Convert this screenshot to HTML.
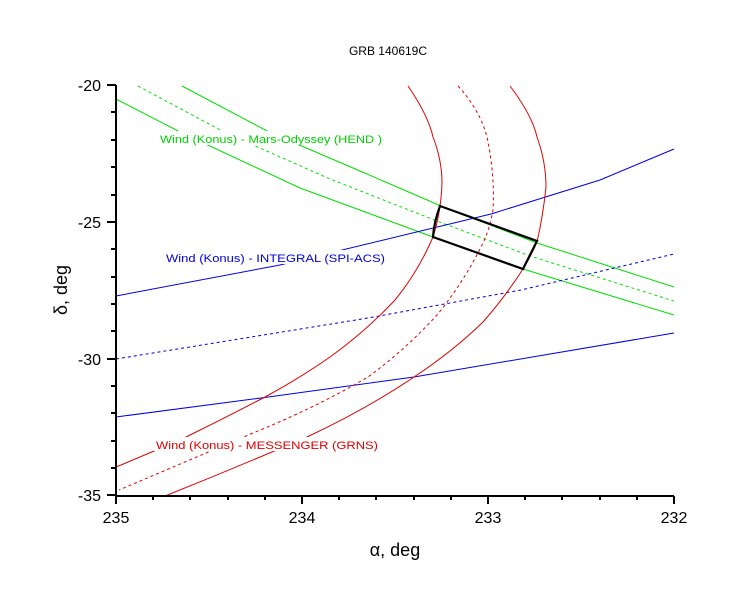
<!DOCTYPE html>
<html><head><meta charset="utf-8"><style>body{margin:0;background:#fff}svg{display:block}text{font-family:"Liberation Sans",sans-serif}</style></head>
<body>
<svg width="730" height="603" viewBox="0 0 730 603" xmlns="http://www.w3.org/2000/svg">
<rect width="730" height="603" fill="#fff"/>
<text x="388" y="55" font-size="12" text-anchor="middle">GRB 140619C</text>
<g fill="none" stroke-width="1">
<!-- green -->
<path d="M182,86 L269,132 L360,171 L441,206 L537,243 L674,287" stroke="#00e000"/>
<path d="M138,86 L226,133 L330,179 L437,221 L530,256 L674,301" stroke="#00e000" stroke-dasharray="3,3"/>
<path d="M116,99 L182,133 L300,188 L433,237 L523,269 L674,315" stroke="#00e000"/>
<!-- blue -->
<path d="M116,296 L280,265 L491,214 L600,180 L674,149" stroke="#0000e0"/>
<path d="M116,359 L368,318 L521,290 L674,254" stroke="#0000e0" stroke-dasharray="3,3"/>
<path d="M116,417 L261,398 L414,377 L674,333" stroke="#0000e0"/>
<!-- red -->
<path d="M408,86 Q428,115 433,137 Q442,160 442,183 Q441,212 433,237 Q418,272 395,300 Q365,332 330,357 Q300,378 265,397 Q225,418 184,438 Q150,453 116,467" stroke="#e00000"/>
<path d="M458,86 Q480,110 487,137 Q495,175 493,210 Q490,228 483,243 Q464,282 437,315 Q405,350 368,377 Q315,408 253,433 Q185,462 119,490" stroke="#e00000" stroke-dasharray="3,3"/>
<path d="M510,86 Q532,115 537,137 Q546,162 546,187 Q543,216 537,242 Q531,256 523,269 Q505,297 483,322 Q452,352 414,377 Q365,410 307,437 Q235,468 165,496" stroke="#e00000"/>
</g>
<path d="M440,206 L537,241 L523,269 L433,237 Q434,222 440,206 Z" fill="none" stroke="#000" stroke-width="2.2"/>
<!-- labels -->
<g font-size="11">
<rect x="158" y="131" width="226" height="14" fill="#fff"/>
<text x="160" y="143" fill="#00d000" textLength="222" lengthAdjust="spacingAndGlyphs">Wind (Konus) - Mars-Odyssey (HEND )</text>
<rect x="164" y="250" width="222" height="14" fill="#fff"/>
<text x="166" y="262" fill="#0000e0" textLength="219" lengthAdjust="spacingAndGlyphs">Wind (Konus) - INTEGRAL (SPI-ACS)</text>
<rect x="154" y="437" width="226" height="14" fill="#fff"/>
<text x="156" y="449" fill="#e00000" textLength="222" lengthAdjust="spacingAndGlyphs">Wind (Konus) - MESSENGER (GRNS)</text>
</g>
<!-- axes -->
<g stroke="#000" stroke-width="2" fill="none">
<path d="M116,85 L116,496 L674,496"/>
<path d="M107,85H116M107,222H116M107,359H116M107,495H116"/>
<path d="M111,112H116M111,140H116M111,167H116M111,195H116M111,249H116M111,277H116M111,304H116M111,331H116M111,386H116M111,413H116M111,441H116M111,468H116"/>
<path d="M116,496V504M302,496V504M488,496V504M674,496V504"/>
<path d="M153,496V500M190,496V500M228,496V500M265,496V500M339,496V500M376,496V500M414,496V500M451,496V500M525,496V500M562,496V500M600,496V500M637,496V500"/>
</g>
<g font-size="16" text-anchor="end">
<text x="101" y="91">-20</text><text x="101" y="228">-25</text><text x="101" y="365">-30</text><text x="101" y="501">-35</text>
</g>
<g font-size="16" text-anchor="middle">
<text x="116" y="523">235</text><text x="302" y="523">234</text><text x="488" y="523">233</text><text x="674" y="523">232</text>
</g>
<text x="395" y="556" font-size="18" text-anchor="middle">α, deg</text>
<text transform="translate(67,290) rotate(-90)" font-size="18" text-anchor="middle">δ, deg</text>
</svg>
</body></html>
